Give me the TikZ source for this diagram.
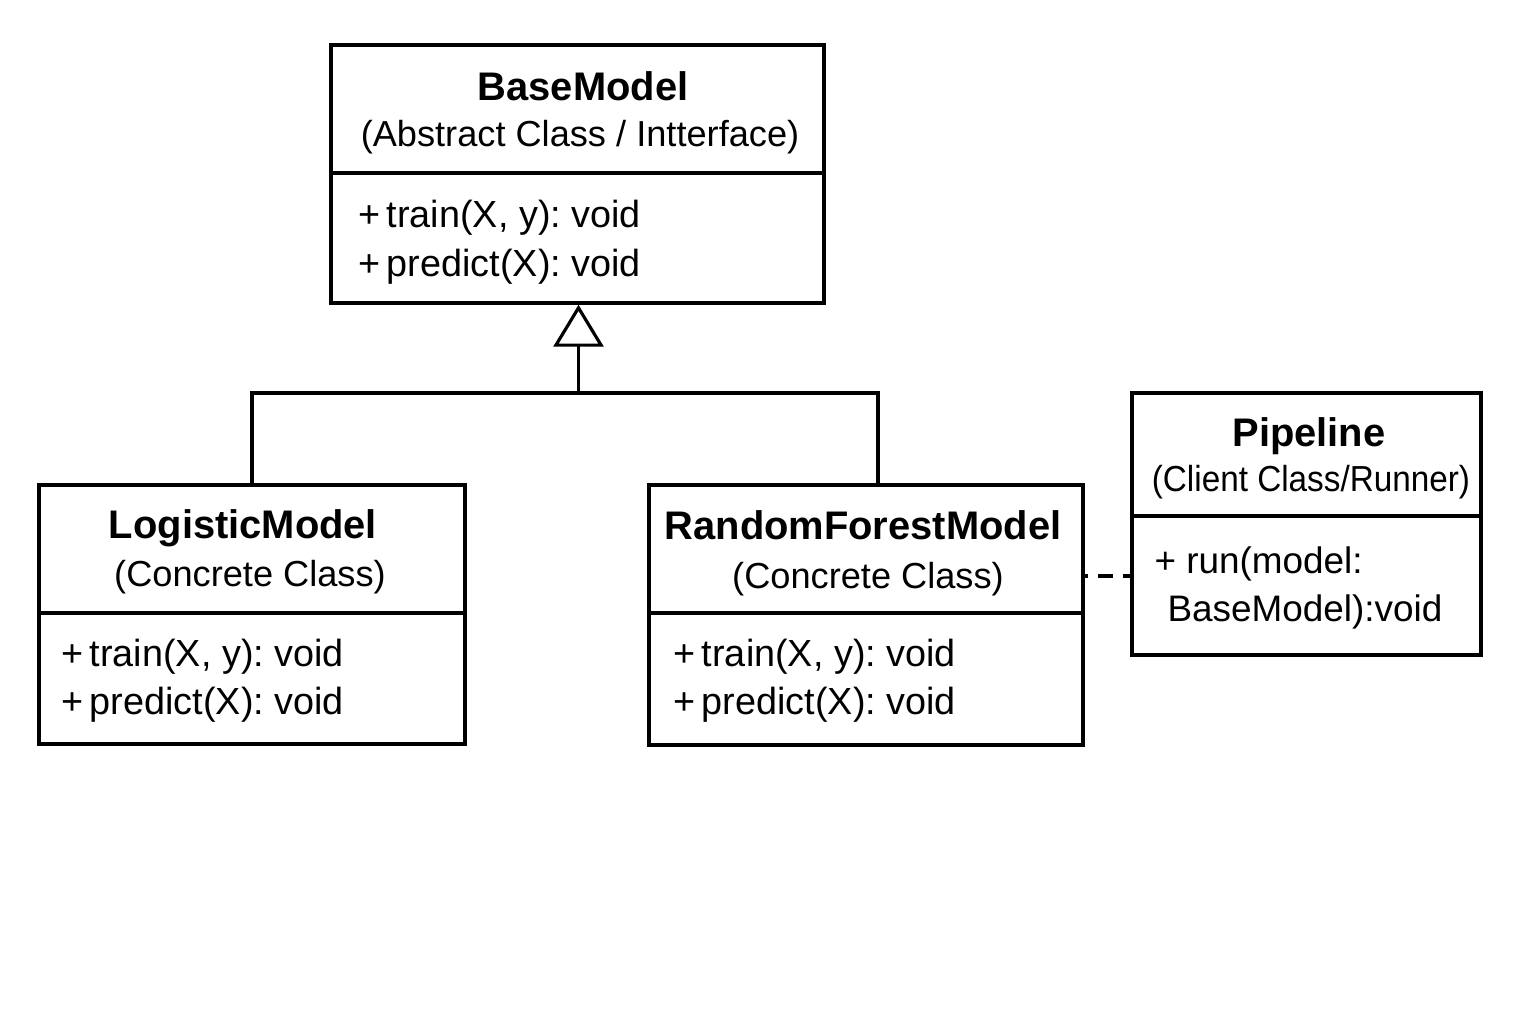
\documentclass[tikz,border=0pt]{standalone}
\usepackage{fontspec}
\usepackage{graphicx}
\setmainfont{Liberation Sans}
\frenchspacing
\usetikzlibrary{arrows.meta,calc}
\begin{document}
\begin{tikzpicture}[x=0.02cm,y=-0.02cm,
  line width=1.8pt,
  classbox/.style={draw=black,rectangle,inner sep=0pt,outer sep=0pt,line width=1.8pt},
  titletext/.style={anchor=base,inner sep=0pt,font=\fontsize{22.7}{26}\selectfont\bfseries},
  subtext/.style={anchor=base,inner sep=0pt,font=\fontsize{20.6}{24}\selectfont},
  methtext/.style={anchor=base west,inner sep=0pt,font=\fontsize{21.5}{24}\selectfont},
  pmethtext/.style={anchor=base west,inner sep=0pt,font=\fontsize{21}{24}\selectfont},
]
\useasboundingbox (0,0) rectangle (1536,1024);
\fill[white] (0,0) rectangle (1536,1024);

% boxes
\node[classbox,minimum width=9.86cm,minimum height=5.16cm] (bm) at (577.5,174) {};
\node[classbox,minimum width=8.52cm,minimum height=5.18cm] (lm) at (252,614.5) {};
\node[classbox,minimum width=8.68cm,minimum height=5.2cm] (rf) at (866,615) {};
\node[classbox,minimum width=6.98cm,minimum height=5.24cm] (pl) at (1306.5,524) {};

% dividers
\draw (bm.west |- 0,173) -- (bm.east |- 0,173);
\draw (lm.west |- 0,613) -- (lm.east |- 0,613);
\draw (rf.west |- 0,613) -- (rf.east |- 0,613);
\draw (pl.west |- 0,516) -- (pl.east |- 0,516);

% BaseModel
\node[titletext] (bmt) at (583,101) {BaseModel};
\node[subtext] (bms) at (580,147) {(Abstract Class / Intterface)};
\node[methtext] (bm1) at (357,228) {+\,train(X, y): void};
\node[methtext] (bm2) at (357,276) {+\,predict(X): void};

% LogisticModel
\node[titletext] (lmt) at (243,538) {LogisticModel};
\node[subtext] (lms) at (250,586) {(Concrete Class)};
\node[methtext] (lm1) at (60,666) {+\,train(X, y): void};
\node[methtext] (lm2) at (60,714) {+\,predict(X): void};

% RandomForestModel
\node[titletext] (rft) at (863,539) {RandomForestModel};
\node[subtext] (rfs) at (868,588) {(Concrete Class)};
\node[methtext] (rf1) at (672,666) {+\,train(X, y): void};
\node[methtext] (rf2) at (672,714) {+\,predict(X): void};

% Pipeline
\node[titletext] (plt) at (1309,446) {Pipeline};
\node[subtext] (pls) at (1311,491) {\scalebox{0.92}[1]{(Client Class/Runner)}};
\node[pmethtext] (pl1) at (1153,573) {+ run(model:};
\node[pmethtext] (pl2) at (1166,621) {BaseModel):void};

% inheritance
\coordinate (j) at (578.5,393);
\coordinate (rfin) at (878,485);
\draw (lm.north) |- (j);
\draw (rfin) |- (j);
\draw[-{Triangle[open,length=0.84cm,width=1.0cm,line width=1.8pt]}] (j) -- ([yshift=-1pt]bm.south -| j);

% dependency
\coordinate (rfd) at ($(rf.north east)!0.35!(rf.south east)$);
\draw[line width=1.8pt,dash pattern=on 0.3cm off 0.2cm,dash phase=0.2cm] (rfd) -- (pl.west |- rfd);
\end{tikzpicture}
\end{document}
